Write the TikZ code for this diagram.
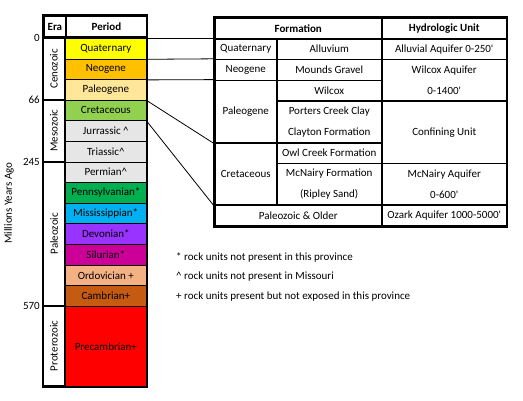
\documentclass[tikz,border=0pt]{standalone}
\usepackage{fontspec}
\setmainfont{Carlito}[Ligatures=TeXOff]
\definecolor{quatC}{HTML}{FFFF00}
\definecolor{neogC}{HTML}{FFC000}
\definecolor{paleogC}{HTML}{FFE699}
\definecolor{cretC}{HTML}{92D050}
\definecolor{greyC}{HTML}{E7E6E6}
\definecolor{pennC}{HTML}{00B050}
\definecolor{missC}{HTML}{00B0F0}
\definecolor{devC}{HTML}{9933FF}
\definecolor{silC}{HTML}{CC0099}
\definecolor{ordC}{HTML}{F4B183}
\definecolor{cambC}{HTML}{C55A11}
\definecolor{precC}{HTML}{FF0000}
\begin{document}
\begin{tikzpicture}[x=1pt,y=-1pt,font=\fontsize{11}{13}\selectfont,
    per/.style={draw,line width=0.7pt,anchor=north west,minimum width=81pt,minimum height=20.6pt,inner sep=0pt},
    era/.style={draw,line width=1.8pt,rotate=90,minimum height=22pt,inner sep=0pt},
    tcell/.style={draw,line width=1.5pt,anchor=north west,minimum height=20.8pt,inner sep=0pt},
    hdr/.style={font=\fontsize{11}{13}\selectfont\bfseries},
    two/.style={align=center,font=\fontsize{11}{20.8}\selectfont}]
\useasboundingbox (0,0) rectangle (523,400);
\foreach \n/\t/\c [count=\i from 0] in {quat/Quaternary/quatC,neog/Neogene/neogC,paleog/Paleogene/paleogC,
    cret/Cretaceous/cretC,jur/Jurrassic \textasciicircum/greyC,tri/Triassic\textasciicircum/greyC,
    perm/Permian\textasciicircum/greyC,penn/Pennsylvanian*/pennC,miss/Mississippian*/missC,
    dev/Devonian*/devC,sil/Silurian*/silC,ord/Ordovician +/ordC,camb/Cambrian+/cambC}
    \node[per,fill=\c] (\n) at (65,{38+20.6*\i}) {\t};
\node[per,fill=precC,minimum height=80.2pt] (prec) at (65,305.8) {Precambrian+};
\node[tcell,hdr,line width=1.8pt,minimum width=22pt,minimum height=21pt,anchor=south west] (hera) at (43,38) {Era};
\node[tcell,hdr,line width=1.8pt,minimum width=81pt,minimum height=21pt,anchor=south west] (hper) at (65,38) {Period};
\node[era,minimum width=61.8pt] (ceno) at (54,68.9) {Cenozoic};
\node[era,minimum width=61.8pt] (meso) at (54,130.7) {Mesozoic};
\node[era,minimum width=144.2pt] (paleo) at (54,233.7) {Paleozoic};
\node[era,minimum width=80.2pt] (prot) at (54,345.9) {Proterozoic};
\draw[line width=1.8pt] (hera.north west) rectangle (prec.south east);
\foreach \v/\y in {0/38,66/99.8,245/161.6,570/305.8}
    \node[anchor=east,inner sep=0pt] (my\v) at (40,\y) {\v};
\node[rotate=90] (myago) at (9,203) {Millions Years Ago};

\node[tcell,hdr,minimum width=167pt,minimum height=21pt] (hform) at (214,17) {Formation};
\node[tcell,hdr,minimum width=125pt,minimum height=21pt] (hhyd) at (381,17) {Hydrologic Unit};
\node[tcell,minimum width=62pt] (rq) at (214,38) {Quaternary};
\node[tcell,minimum width=105pt] (fq) at (276,38) {Alluvium};
\node[tcell,minimum width=125pt] (hq) at (381,38) {Alluvial Aquifer 0-250'};
\node[tcell,minimum width=62pt] (rn) at (214,58.8) {Neogene};
\node[tcell,minimum width=105pt] (fn) at (276,58.8) {Mounds Gravel};
\node[tcell,two,minimum width=125pt,minimum height=41.6pt] (hw) at (381,58.8) {Wilcox Aquifer\\0-1400'};
\node[tcell,minimum width=62pt,minimum height=62.4pt] (rp) at (214,79.6) {Paleogene};
\node[tcell,minimum width=105pt] (fw) at (276,79.6) {Wilcox};
\node[tcell,two,minimum width=105pt,minimum height=41.6pt] (fpc) at (276,100.4) {Porters Creek Clay\\Clayton Formation};
\node[tcell,minimum width=125pt,minimum height=62.4pt] (hc) at (381,100.4) {Confining Unit};
\node[tcell,minimum width=62pt,minimum height=62.4pt] (rc) at (214,142) {Cretaceous};
\node[tcell,minimum width=105pt] (fo) at (276,142) {Owl Creek Formation};
\node[tcell,two,minimum width=105pt,minimum height=41.6pt] (fm) at (276,162.8) {McNairy Formation\\(Ripley Sand)};
\node[tcell,two,minimum width=125pt,minimum height=41.6pt] (hm) at (381,162.8) {McNairy Aquifer\\0-600'};
\node[tcell,minimum width=167pt] (fpz) at (214,204.4) {Paleozoic \& Older};
\node[tcell,minimum width=125pt] (hoz) at (381,204.4) {Ozark Aquifer 1000-5000'};
\draw[line width=1.8pt] (hform.north west) rectangle (hoz.south east);

\draw[line width=0.8pt] (quat.north east) -- (rq.north west);
\draw[line width=0.8pt] (quat.south east) -- (rn.north west);
\draw[line width=0.8pt] (neog.south east) -- (rp.north west);
\draw[line width=0.8pt] (paleog.south east) -- (rp.south west);
\draw[line width=0.8pt] (cret.south east) -- (rc.south west);

\node[anchor=west,inner sep=0pt] (nstar) at (176,257) {* rock units not present in this province};
\node[anchor=west,inner sep=0pt] (nhat) at (176,277) {\textasciicircum\ rock units not present in Missouri};
\node[anchor=west,inner sep=0pt] (nplus) at (176,297) {+ rock units present but not exposed in this province};
\end{tikzpicture}
\end{document}
